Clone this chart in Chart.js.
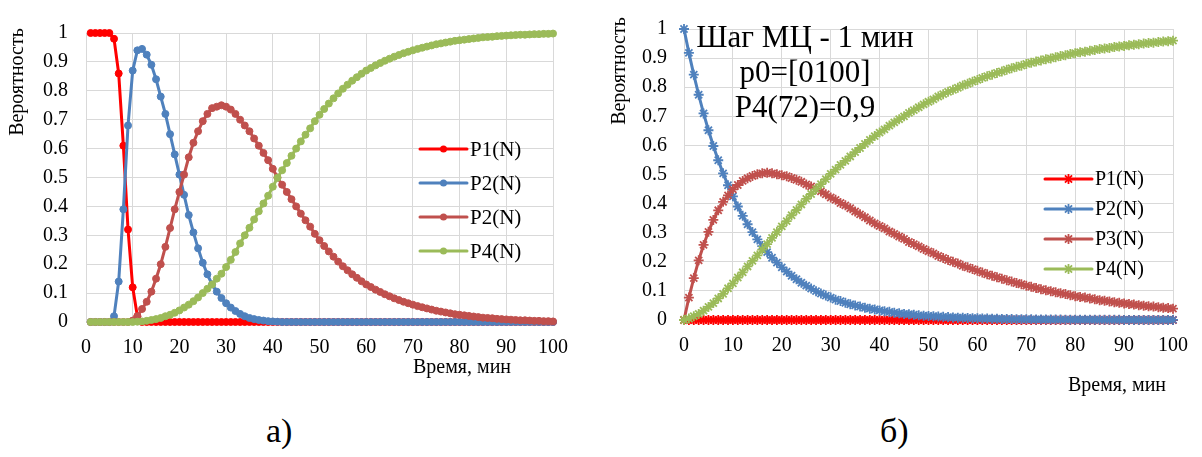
<!DOCTYPE html>
<html><head><meta charset="utf-8">
<script src="https://cdn.jsdelivr.net/npm/chart.js"></script>
<style>
html,body{margin:0;padding:0;background:#fff;width:1202px;height:457px;overflow:hidden;}
#a{position:absolute;left:0;top:0;}
#b{position:absolute;left:600px;top:0;}
.cap{position:absolute;font-family:"Liberation Serif","Times New Roman",serif;font-size:34px;color:#000;line-height:1;}
</style></head><body>
<canvas id="a" width="600" height="400"></canvas>
<canvas id="b" width="602" height="400"></canvas>
<div class="cap" style="left:266px;top:414px">а)</div>
<div class="cap" style="left:880px;top:414px">б)</div>
<script>
// ---------- texts ----------
const Y_TITLE = "Вероятность";
const X_TITLE = "Время, мин";
const LEFT_LABELS = ["P1(N)", "P2(N)", "P2(N)", "P4(N)"];
const RIGHT_LABELS = ["P1(N)", "P2(N)", "P3(N)", "P4(N)"];
const RIGHT_NOTE = ["Шаг МЦ - 1 мин", "p0=[0100]", "P4(72)=0,9"];
const COLORS = ["#FF0000", "#4F81BD", "#C0504D", "#9BBB59"];

// ---------- chart a) : time, minutes 1..100 ----------
const leftX = [1,2,3,4,5,6,7,8,9,10,11,12,13,14,15,16,17,18,19,20,21,22,23,24,25,26,27,28,29,30,31,32,33,34,35,36,37,38,39,40,41,42,43,44,45,46,47,48,49,50,51,52,53,54,55,56,57,58,59,60,61,62,63,64,65,66,67,68,69,70,71,72,73,74,75,76,77,78,79,80,81,82,83,84,85,86,87,88,89,90,91,92,93,94,95,96,97,98,99,100];
const leftP1 = [1,1,1,1,1,0.98,0.86,0.61,0.32,0.12,0.02,0,0,0,0,0,0,0,0,0,0,0,0,0,0,0,0,0,0,0,0,0,0,0,0,0,0,0,0,0,0,0,0,0,0,0,0,0,0,0,0,0,0,0,0,0,0,0,0,0,0,0,0,0,0,0,0,0,0,0,0,0,0,0,0,0,0,0,0,0,0,0,0,0,0,0,0,0,0,0,0,0,0,0,0,0,0,0,0,0];
const leftP2 = [0,0,0,0,0,0.02,0.14,0.39,0.68,0.87,0.94,0.945,0.925,0.89,0.84,0.78,0.72,0.65,0.58,0.51,0.44,0.37,0.31,0.255,0.205,0.165,0.13,0.105,0.083,0.065,0.05,0.038,0.028,0.02,0.014,0.01,0.007,0.005,0.003,0.002,0.001,0,0,0,0,0,0,0,0,0,0,0,0,0,0,0,0,0,0,0,0,0,0,0,0,0,0,0,0,0,0,0,0,0,0,0,0,0,0,0,0,0,0,0,0,0,0,0,0,0,0,0,0,0,0,0,0,0,0,0];
const leftP3 = [0,0,0,0,0,0,0,0,0,0.005,0.02,0.045,0.07,0.105,0.15,0.2,0.26,0.325,0.39,0.45,0.51,0.57,0.62,0.66,0.695,0.72,0.74,0.745,0.75,0.745,0.735,0.72,0.7,0.68,0.66,0.635,0.61,0.585,0.56,0.53,0.5,0.475,0.45,0.425,0.4,0.375,0.352,0.33,0.305,0.283,0.263,0.244,0.226,0.209,0.193,0.179,0.165,0.153,0.141,0.13,0.121,0.112,0.104,0.096,0.089,0.082,0.076,0.07,0.065,0.06,0.055,0.051,0.047,0.043,0.039,0.036,0.033,0.03,0.027,0.025,0.023,0.021,0.019,0.017,0.015,0.014,0.013,0.011,0.01,0.009,0.008,0.007,0.006,0.006,0.005,0.004,0.004,0.003,0.003,0.002];
const leftP4 = [0,0,0,0,0,0,0,0,0,0,0.001,0.002,0.004,0.007,0.01,0.014,0.02,0.025,0.032,0.04,0.05,0.06,0.072,0.085,0.1,0.115,0.13,0.15,0.167,0.19,0.215,0.242,0.272,0.3,0.326,0.355,0.383,0.41,0.437,0.468,0.499,0.525,0.55,0.575,0.6,0.625,0.648,0.67,0.695,0.717,0.737,0.756,0.774,0.791,0.807,0.821,0.835,0.847,0.859,0.87,0.879,0.888,0.896,0.904,0.911,0.918,0.924,0.93,0.935,0.94,0.945,0.949,0.953,0.957,0.961,0.964,0.967,0.97,0.973,0.975,0.977,0.979,0.981,0.983,0.985,0.986,0.987,0.989,0.99,0.991,0.992,0.993,0.994,0.994,0.995,0.996,0.996,0.997,0.997,0.998];

// ---------- chart б) : time, minutes 0..100 ----------
const rightX = [0,1,2,3,4,5,6,7,8,9,10,11,12,13,14,15,16,17,18,19,20,21,22,23,24,25,26,27,28,29,30,31,32,33,34,35,36,37,38,39,40,41,42,43,44,45,46,47,48,49,50,51,52,53,54,55,56,57,58,59,60,61,62,63,64,65,66,67,68,69,70,71,72,73,74,75,76,77,78,79,80,81,82,83,84,85,86,87,88,89,90,91,92,93,94,95,96,97,98,99,100];
const rightP1 = [0,0,0,0,0,0,0,0,0,0,0,0,0,0,0,0,0,0,0,0,0,0,0,0,0,0,0,0,0,0,0,0,0,0,0,0,0,0,0,0,0,0,0,0,0,0,0,0,0,0,0,0,0,0,0,0,0,0,0,0,0,0,0,0,0,0,0,0,0,0,0,0,0,0,0,0,0,0,0,0,0,0,0,0,0,0,0,0,0,0,0,0,0,0,0,0,0,0,0,0,0];
const rightP2 = [1,0.918,0.843,0.774,0.71,0.652,0.598,0.549,0.504,0.463,0.425,0.39,0.358,0.329,0.302,0.277,0.254,0.233,0.214,0.197,0.181,0.166,0.152,0.14,0.128,0.118,0.108,0.099,0.091,0.084,0.077,0.07,0.065,0.059,0.054,0.05,0.046,0.042,0.039,0.036,0.033,0.03,0.028,0.025,0.023,0.021,0.02,0.018,0.016,0.015,0.014,0.013,0.012,0.011,0.01,0.009,0.008,0.0076,0.007,0.0064,0.0059,0.0054,0.005,0.0046,0.0042,0.0038,0.0035,0.0032,0.003,0.0027,0.0025,0.0023,0.0021,0.0019,0.0018,0.0016,0.0015,0.0014,0.0012,0.0011,0.001,0.001,0.0009,0.0008,0.0007,0.0007,0.0006,0.0006,0.0005,0.0005,0.0004,0.0004,0.0004,0.0003,0.0003,0.0003,0.0003,0.0002,0.0002,0.0002,0.0002];
const rightP3 = [0,0.077,0.144,0.205,0.258,0.303,0.344,0.377,0.406,0.428,0.449,0.464,0.478,0.487,0.495,0.501,0.504,0.506,0.504,0.501,0.497,0.494,0.488,0.482,0.475,0.466,0.459,0.451,0.442,0.432,0.421,0.413,0.402,0.394,0.384,0.373,0.363,0.353,0.342,0.332,0.323,0.315,0.304,0.296,0.287,0.279,0.268,0.261,0.253,0.244,0.236,0.229,0.22,0.213,0.206,0.2,0.194,0.186,0.181,0.175,0.169,0.163,0.157,0.152,0.147,0.142,0.137,0.132,0.127,0.123,0.118,0.114,0.11,0.106,0.102,0.099,0.095,0.092,0.089,0.085,0.082,0.079,0.077,0.074,0.071,0.068,0.066,0.064,0.061,0.059,0.057,0.055,0.053,0.051,0.049,0.047,0.046,0.044,0.042,0.041,0.039];
const rightP4 = [0,0.005,0.013,0.021,0.032,0.045,0.058,0.074,0.09,0.109,0.126,0.146,0.164,0.184,0.203,0.222,0.242,0.261,0.282,0.302,0.322,0.34,0.36,0.378,0.397,0.416,0.433,0.45,0.467,0.484,0.502,0.517,0.533,0.547,0.562,0.577,0.591,0.605,0.619,0.632,0.644,0.655,0.668,0.679,0.69,0.7,0.712,0.721,0.731,0.741,0.75,0.758,0.768,0.776,0.784,0.791,0.798,0.806,0.812,0.819,0.825,0.832,0.838,0.843,0.849,0.854,0.86,0.865,0.87,0.874,0.88,0.884,0.888,0.892,0.896,0.899,0.903,0.907,0.91,0.914,0.917,0.92,0.922,0.925,0.928,0.931,0.933,0.935,0.938,0.94,0.942,0.944,0.946,0.948,0.95,0.952,0.953,0.955,0.957,0.958,0.96];

// ---------- helpers ----------
const FONT = '"Liberation Serif", "Times New Roman", serif';
function pts(xs, ys){ return xs.map((x,i)=>({x:x, y:ys[i]})); }
function fmt(v){ return String(+(+v).toFixed(2)); }

function drawMarker(ctx, style, x, y, r, color, bw){
  ctx.save();
  ctx.strokeStyle = color; ctx.fillStyle = color; ctx.lineWidth = bw;
  ctx.beginPath();
  if (style === 'circle') {
    ctx.arc(x, y, r, 0, Math.PI*2); ctx.fill();
  } else {
    const d = r*Math.SQRT1_2;
    ctx.moveTo(x-d,y-d); ctx.lineTo(x+d,y+d);
    ctx.moveTo(x-d,y+d); ctx.lineTo(x+d,y-d);
    ctx.moveTo(x,y-r); ctx.lineTo(x,y+r);
    ctx.moveTo(x-r,y); ctx.lineTo(x+r,y);
    ctx.stroke();
  }
  ctx.restore();
}

function overlay(cfg){
  return {
    id: 'overlay',
    afterDraw(chart){
      const ctx = chart.ctx;
      ctx.save();
      ctx.fillStyle = '#000';
      ctx.textBaseline = 'middle';
      ctx.font = cfg.titleSize + 'px ' + FONT;
      // axis titles
      ctx.save();
      ctx.translate(cfg.yTitle[0], cfg.yTitle[1]);
      ctx.rotate(-Math.PI/2);
      ctx.textAlign = 'center';
      ctx.fillText(Y_TITLE, 0, 0);
      ctx.restore();
      ctx.textAlign = 'center';
      ctx.fillText(X_TITLE, cfg.xTitle[0], cfg.xTitle[1]);
      // legend
      const L = cfg.legend;
      ctx.font = L.size + 'px ' + FONT;
      chart.data.datasets.forEach((ds, i) => {
        const y = L.y + i*L.dy;
        ctx.save();
        ctx.strokeStyle = ds.borderColor; ctx.lineWidth = ds.borderWidth; ctx.lineCap = 'round';
        ctx.beginPath(); ctx.moveTo(L.x, y); ctx.lineTo(L.x + L.len, y); ctx.stroke();
        ctx.restore();
        drawMarker(ctx, ds.pointStyle, L.x + L.len/2, y, ds.pointRadius, ds.borderColor, ds.pointBorderWidth);
        ctx.textAlign = 'left';
        ctx.fillStyle = '#000';
        ctx.fillText(ds.label, L.x + L.len + 3, y + 1);
      });
      // note
      if (cfg.note) {
        ctx.font = cfg.note.size + 'px ' + FONT;
        ctx.textAlign = 'center';
        cfg.note.lines.forEach((t, i) => ctx.fillText(t, cfg.note.x, cfg.note.y + i*cfg.note.dy));
      }
      ctx.restore();
    }
  };
}

function makeChart(id, xs, series, labels, opt){
  const datasets = series.map((s, i) => ({
    label: labels[i],
    data: pts(xs, s),
    borderColor: COLORS[i],
    backgroundColor: COLORS[i],
    pointBackgroundColor: COLORS[i],
    pointBorderColor: COLORS[i],
    borderWidth: 3,
    pointStyle: opt.pointStyle,
    pointRadius: opt.pointRadius,
    pointBorderWidth: opt.pointBorderWidth,
    tension: 0,
    fill: false,
    clip: false,
    order: series.length - i
  }));
  const tickFont = {family: FONT, size: opt.tickSize};
  return new Chart(document.getElementById(id), {
    type: 'line',
    data: {datasets},
    options: {
      animation: false,
      responsive: false,
      maintainAspectRatio: false,
      events: [],
      layout: {padding: opt.padding},
      plugins: {legend: {display: false}, tooltip: {enabled: false}},
      scales: {
        x: {
          type: 'linear', min: 0, max: 100,
          ticks: {stepSize: 10, font: tickFont, color: '#000', padding: opt.xTickPad, callback: fmt},
          grid: {color: '#D9D9D9', lineWidth: 1, drawTicks: false},
          border: {color: '#D9D9D9'},
          afterFit: s => { s.height = opt.xHeight; }
        },
        y: {
          min: 0, max: 1,
          ticks: {stepSize: 0.1, font: tickFont, color: '#000', padding: opt.yTickPad, callback: fmt},
          grid: {color: '#D9D9D9', lineWidth: 1, drawTicks: false},
          border: {color: '#D9D9D9'},
          afterFit: s => { s.width = opt.yWidth; }
        }
      }
    },
    plugins: [overlay(opt.overlay)]
  });
}

function build(){
  makeChart('a', leftX, [leftP1, leftP2, leftP3, leftP4], LEFT_LABELS, {
    pointStyle: 'circle', pointRadius: 3.5, pointBorderWidth: 1,
    tickSize: 20, xTickPad: 14, yTickPad: 18,
    padding: {left: 0, top: 33, right: 47, bottom: 0},
    xHeight: 78, yWidth: 86,
    overlay: {
      titleSize: 20,
      yTitle: [18, 82], xTitle: [462, 368],
      legend: {x: 420, y: 149, dy: 34, len: 47, size: 21}
    }
  });
  makeChart('b', rightX, [rightP1, rightP2, rightP3, rightP4], RIGHT_LABELS, {
    pointStyle: 'star', pointRadius: 5, pointBorderWidth: 1.8,
    tickSize: 20, xTickPad: 14, yTickPad: 17,
    padding: {left: 0, top: 18, right: 27, bottom: 0},
    xHeight: 80, yWidth: 84,
    overlay: {
      titleSize: 20,
      yTitle: [20, 71], xTitle: [517, 386],
      legend: {x: 445, y: 179, dy: 30, len: 47, size: 20},
      note: {lines: RIGHT_NOTE, x: 205, y: 39, dy: 35, size: 31}
    }
  });
}

if (document.fonts && document.fonts.load) {
  Promise.all([document.fonts.load('20px "Liberation Serif"'), document.fonts.load('20px "Times New Roman"')])
    .then(build, build);
} else { build(); }
</script>
</body></html>
